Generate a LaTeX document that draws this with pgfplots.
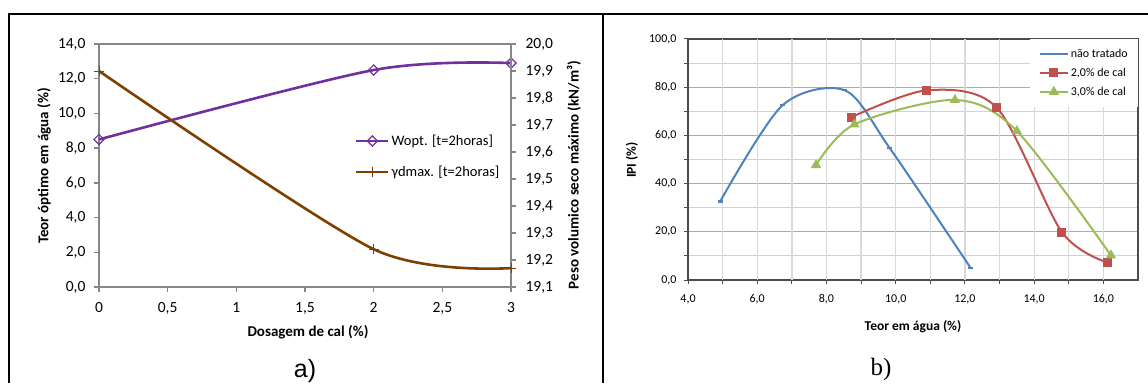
\documentclass[border=0pt]{standalone}
\usepackage{fontspec}
\setmainfont{Carlito}
\newfontfamily\arialfont{Liberation Sans}
\newfontfamily\timesfont{Liberation Serif}
\usepackage{pgfplots}
\pgfplotsset{compat=1.18}
\pgfplotsset{/pgf/number format/assume math mode=true}
\definecolor{wpurple}{RGB}{112,48,160}
\definecolor{gbrown}{RGB}{127,63,0}
\definecolor{xblue}{RGB}{79,129,189}
\definecolor{xred}{RGB}{192,80,77}
\definecolor{xgreen}{RGB}{155,187,89}
\definecolor{axgray}{RGB}{134,134,134}

\begin{document}
\begin{tikzpicture}
\useasboundingbox (0pt,0pt) rectangle (1148pt,383pt);
% frame
\draw[line width=1.7pt] (9pt,0pt) -- (9pt,369pt) -- (1148pt,369pt);
\draw[line width=1.7pt] (603pt,0pt) -- (603pt,369pt);

% ---------- a) left axis ----------
\begin{axis}[
  at={(99pt,96pt)}, anchor=south west,
  scale only axis, width=412pt, height=243pt,
  xmin=0, xmax=3, ymin=0, ymax=14,
  xtick={0,0.5,1,1.5,2,2.5,3}, ytick={0,2,4,6,8,10,12,14},
  tick pos=left,
  axis line style={axgray, line width=1.3pt},
  tick style={axgray, line width=1.3pt},
  tick align=outside, major tick length=5pt,
  ticklabel style={font=\fontsize{15.5}{15.5}\selectfont, black},
  xticklabel style={yshift=-7pt, /pgf/number format/.cd, fixed, precision=1, use comma},
  yticklabel style={xshift=-5pt, /pgf/number format/.cd, fixed, fixed zerofill, precision=1, use comma},
  clip=false,
  legend cell align=left,
  legend image code/.code={\draw[mark repeat=2, mark phase=2] plot coordinates {(0pt,0pt) (16pt,0pt) (32pt,0pt)};},
  legend style={draw=none, fill=none, at={(0.621,0.537)}, anchor=west,
    font=\fontsize{14.5}{16}\selectfont, inner sep=0pt, row sep=19pt, column sep=1pt,
    nodes={inner xsep=1pt, inner ysep=0pt}},
]
\addplot[wpurple, line width=2.6pt, smooth, tension=0.5, mark=square,
  mark options={rotate=45, fill=white, line width=1.2pt, solid}, mark size=3.6pt]
  coordinates {(0,8.5) (2,12.5) (3,12.9)};
\addlegendentry{Wopt. [t=2horas]}
\addlegendimage{gbrown, line width=2.6pt, mark=+, mark size=5pt, mark options={line width=1pt}}
\addlegendentry{γdmax. [t=2horas]}
\end{axis}

% ---------- a) right axis ----------
\begin{axis}[
  at={(99pt,96pt)}, anchor=south west,
  scale only axis, width=412pt, height=243pt,
  xmin=0, xmax=3, ymin=19.1, ymax=20.0,
  axis x line=none, axis y line*=right,
  ytick={19.1,19.2,19.3,19.4,19.5,19.6,19.7,19.8,19.9,20.0},
  axis line style={axgray, line width=1.3pt},
  tick style={axgray, line width=1.3pt},
  tick align=outside, major tick length=5pt,
  ticklabel style={font=\fontsize{15.5}{15.5}\selectfont, black},
  yticklabel style={xshift=6pt, /pgf/number format/.cd, fixed, fixed zerofill, precision=1, use comma},
  clip=false,
]
\addplot[gbrown, line width=2.6pt, smooth, tension=0.45, mark=+, mark size=5pt,
  mark options={line width=1pt, solid}]
  coordinates {(0,19.9) (2,19.24) (3,19.17)};
\end{axis}

% a) labels
\node[font=\bfseries\fontsize{15}{15}\selectfont] at (308pt,51pt) {Dosagem de cal (\%)};
\node[rotate=90, font=\bfseries\fontsize{15}{15}\selectfont] at (44pt,217pt) {Teor óptimo em água (\%)};
\node[rotate=90, font=\bfseries\fontsize{15}{15}\selectfont] at (574pt,208pt) {Peso volumico seco máximo (kN/m³)};
\node[anchor=base, font=\arialfont\fontsize{25}{25}\selectfont] at (305pt,6pt) {a)};

% ---------- b) ----------
\begin{axis}[
  at={(688pt,103pt)}, anchor=south west,
  scale only axis, width=450pt, height=241pt,
  xmin=4, xmax=17, ymin=0, ymax=100,
  xtick={4,6,8,10,12,14,16}, ytick={0,20,40,60,80,100},
  minor ytick={10,30,50,70,90},
  ymajorgrids, yminorgrids,
  major grid style={gray!65, line width=1pt},
  minor grid style={gray!35, line width=1pt},
  extra x ticks={5,6,7,8,9,10,11,12,13,14,15,16},
  extra x tick labels={},
  extra x tick style={xmajorgrids=true, major grid style={gray!30, line width=1.3pt}},
  tick pos=left,
  axis line style={black!70, line width=1.2pt},
  tick style={black!70, line width=1pt},
  tick align=outside, major tick length=4pt, minor tick length=4pt,
  ticklabel style={font=\fontsize{12}{12}\selectfont, black},
  xticklabel style={yshift=-7pt, /pgf/number format/.cd, fixed, fixed zerofill, precision=1, use comma},
  yticklabel style={xshift=-4pt, /pgf/number format/.cd, fixed, fixed zerofill, precision=1, use comma},
  clip=false,
  legend cell align=left,
  legend image code/.code={\draw[mark repeat=2, mark phase=2] plot coordinates {(0pt,0pt) (14pt,0pt) (28pt,0pt)};},
  legend style={at={(1,1)}, anchor=north east, draw=none, fill=white,
    font=\fontsize{12}{13}\selectfont, inner xsep=9pt, inner ysep=10pt, row sep=9pt, column sep=1pt,
    nodes={inner xsep=1pt, inner ysep=0pt}},
]
\addplot[xblue, line width=2pt, smooth, tension=0.5, mark=-, mark size=2.5pt,
  mark options={line width=2.2pt, solid}]
  coordinates {(4.93,32.6) (6.73,72.5) (8.53,78.7) (9.82,54.9) (12.16,5.1)};
\addlegendentry{não tratado}
\addplot[xred, line width=2pt, smooth, tension=0.5, mark=square*, mark size=3.5pt,
  mark options={solid}]
  coordinates {(8.71,67.5) (10.90,78.7) (12.92,71.5) (14.80,19.9) (16.13,7.2)};
\addlegendentry{2,0\% de cal}
\addplot[xgreen, line width=2pt, smooth, tension=0.5, mark=triangle*, mark size=4pt,
  mark options={solid}]
  coordinates {(7.70,47.7) (8.81,64.6) (11.71,74.7) (13.50,61.8) (16.22,10.2)};
\addlegendentry{3,0\% de cal}
\end{axis}

\node[font=\bfseries\fontsize{13.5}{13.5}\selectfont] at (913pt,56pt) {Teor em água (\%)};
\node[rotate=90, font=\bfseries\fontsize{13.5}{13.5}\selectfont] at (632pt,223pt) {IPI (\%)};
\node[anchor=base, font=\timesfont\fontsize{25}{25}\selectfont] at (881pt,8pt) {b)};
\end{tikzpicture}
\end{document}
